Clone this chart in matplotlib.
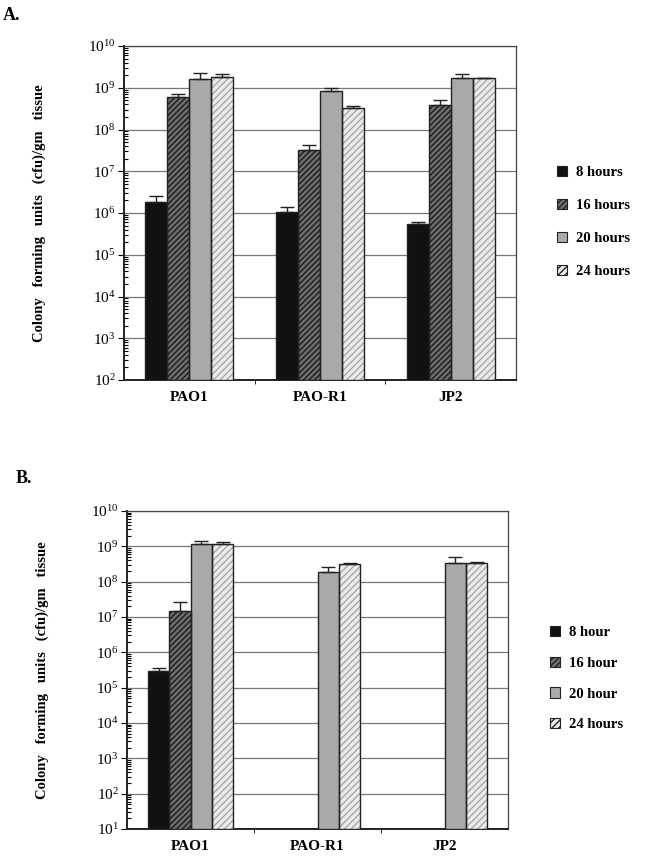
import numpy as np
import matplotlib
matplotlib.use("Agg")
import matplotlib.pyplot as plt
from matplotlib.patches import Patch

plt.rcParams['font.family'] = ['Liberation Serif', 'DejaVu Serif']
plt.rcParams['mathtext.fontset'] = 'stix'
plt.rcParams['hatch.linewidth'] = 1.0

strains = ["PAO1", "PAO-R1", "JP2"]

# panel A - cfu/gm tissue (mean, upper end of error bar)
a_labels = ["8 hours", "16 hours", "20 hours", "24 hours"]
a_mean = [
    [1.86e6, 1.04e6, 5.4e5],
    [5.9e8, 3.3e7, 3.8e8],
    [1.6e9, 8.5e8, 1.7e9],
    [1.8e9, 3.3e8, 1.7e9],
]
a_top = [
    [2.6e6, 1.36e6, 6.2e5],
    [7.1e8, 4.2e7, 5.0e8],
    [2.2e9, 9.7e8, 2.1e9],
    [2.1e9, 3.7e8, 1.75e9],
]

# panel B - no growth for PAO-R1 and JP2 at 8 and 16 h
b_labels = ["8 hour", "16 hour", "20 hour", "24 hours"]
b_mean = [
    [2.9e5, np.nan, np.nan],
    [1.5e7, np.nan, np.nan],
    [1.2e9, 1.85e8, 3.4e8],
    [1.2e9, 3.2e8, 3.4e8],
]
b_top = [
    [3.6e5, np.nan, np.nan],
    [2.6e7, np.nan, np.nan],
    [1.4e9, 2.6e8, 5.1e8],
    [1.35e9, 3.3e8, 3.5e8],
]

styles = [
    dict(color="#111111", edgecolor="#111111", hatch=None),
    dict(color="#6e6e6e", edgecolor="#1a1a1a", hatch="//////"),
    dict(color="#a9a9a9", edgecolor="#333333", hatch=None),
    dict(color="#ececec", edgecolor="#a8a8a8", hatch="/////"),
]


def draw_panel(ax, means, tops, labels, ymin, legend_xy, spacing):
    x = np.arange(len(strains))
    w = 0.168
    for i in range(4):
        m = np.array(means[i])
        t = np.array(tops[i])
        pos = x + (i - 1.5) * w
        st = styles[i]
        ax.bar(pos, m, w, bottom=ymin, color=st["color"], edgecolor=st["edgecolor"],
               hatch=st["hatch"], linewidth=0, zorder=3)
        # outline on top of the hatch
        ax.bar(pos, m, w, bottom=ymin, fill=False, edgecolor="#222222", linewidth=1.0, zorder=4)
        ok = ~np.isnan(m)
        ax.errorbar(pos[ok], m[ok], yerr=[np.zeros(ok.sum()), (t - m)[ok]], fmt="none",
                    ecolor="#222222", elinewidth=1.0, capsize=5, capthick=1.0, zorder=5)

    ax.set_yscale("log")
    ax.set_ylim(ymin, 1e10)
    ax.set_xlim(-0.5, 2.5)
    ax.yaxis.grid(True, which="major", color="#777777", linewidth=0.9, zorder=0)
    ax.set_axisbelow(True)
    ax.yaxis.set_major_locator(matplotlib.ticker.LogLocator(base=10, numticks=20))
    ax.yaxis.set_minor_locator(matplotlib.ticker.LogLocator(base=10, subs=np.arange(2, 10), numticks=20))
    ax.yaxis.set_minor_formatter(matplotlib.ticker.NullFormatter())
    ax.tick_params(axis="y", which="major", direction="out", length=4, labelsize=11, pad=2)
    ax.tick_params(axis="y", which="minor", direction="in", length=3, width=0.8)

    ax.set_xticks(x)
    ax.set_xticklabels(strains, fontweight="bold", fontsize=11)
    ax.set_xticks([0.5, 1.5], minor=True)
    ax.set_xticklabels(["", ""], minor=True)
    ax.tick_params(axis="x", which="major", length=0, pad=8)
    ax.tick_params(axis="x", which="minor", direction="out", length=3)

    for s in ax.spines.values():
        s.set_color("#444444")
        s.set_linewidth(0.9)
    ax.spines["bottom"].set_linewidth(1.4)
    ax.spines["left"].set_linewidth(1.4)
    ax.spines["bottom"].set_color("#222222")
    ax.spines["left"].set_color("#222222")

    ax.set_ylabel("Colony   forming   units   (cfu)/gm   tissue", fontweight="bold",
                  fontsize=10.5, labelpad=30)

    handles = [Patch(facecolor=st["color"], edgecolor="#222222", hatch=st["hatch"],
                     linewidth=0.8) for st in styles]
    ax.legend(handles, labels, loc="upper left", bbox_to_anchor=legend_xy, frameon=False,
              handlelength=0.7, handleheight=0.7, labelspacing=spacing, handletextpad=0.6,
              prop=dict(family="Liberation Serif", weight="bold", size=10.5))


fig = plt.figure(figsize=(6.47, 8.67), dpi=100)
axA = fig.add_axes([0.1917, 0.5617, 0.6059, 0.3852])
axB = fig.add_axes([0.1963, 0.0438, 0.5889, 0.3668])

draw_panel(axA, a_mean, a_top, a_labels, 1e2, (1.07, 0.68), 1.35)
draw_panel(axB, b_mean, b_top, b_labels, 1e1, (1.075, 0.68), 1.2)

fig.text(0.004, 0.992, "A.", fontsize=13, fontweight="bold", va="top")
fig.text(0.024, 0.458, "B.", fontsize=13, fontweight="bold", va="top")

fig.savefig("out.png", dpi=100)
